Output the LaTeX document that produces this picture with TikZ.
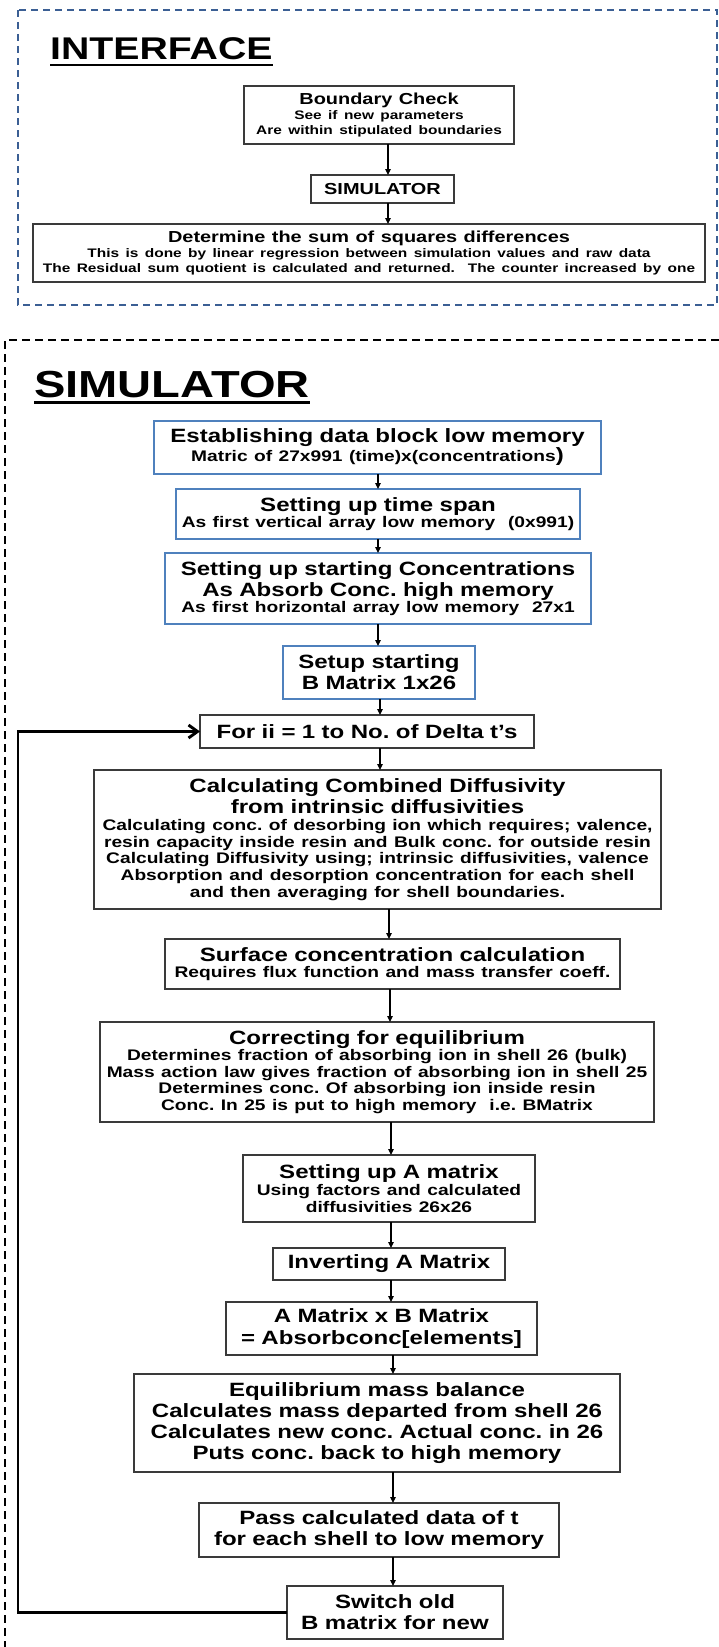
\documentclass[tikz,border=0pt]{standalone}
\usepackage{fontspec}
\setmainfont{Liberation Sans}[FakeStretch=1.25]
\usetikzlibrary{arrows.meta,positioning}
\usepackage{xcolor}
\frenchspacing

\definecolor{framebl}{HTML}{3B5F94}
\definecolor{boxbl}{HTML}{4F81BD}
\definecolor{boxgr}{HTML}{3A3A3A}

% text sizes inside the boxes
\newcommand{\facehead}{\bfseries\fontsize{16}{17}\selectfont}
\newcommand{\facesub}{\bfseries\fontsize{12.4}{15}\selectfont}
\newcommand{\boxhead}{\bfseries\fontsize{19.3}{21.2}\selectfont}
\newcommand{\boxsub}{\bfseries\fontsize{15.4}{16.7}\selectfont}

\begin{document}
\begin{tikzpicture}[x=1bp, y=1bp, every node/.style={font=\boxhead}]
\tikzset{box/.style={draw=boxgr, line width=1.4bp, fill=white, inner sep=0pt, outer sep=0pt, align=center}}
\tikzset{bbox/.style={box, draw=boxbl}}
\tikzset{arr/.style={line width=1.2bp, -{Triangle[length=6bp,width=5.5bp]}}}
\tikzset{backarr/.style={line width=2.9bp, -{Straight Barb[length=9bp,width=13bp]}}}
\tikzset{title/.style={inner sep=0pt, anchor=base west}}
\useasboundingbox (0,0) rectangle (719,-1647);

% interface panel
\draw[draw=framebl, line width=2.2bp, dash pattern=on 7bp off 5bp] (18,-10) rectangle (717,-305);
\node[title, font=\bfseries\fontsize{31.5}{34}\selectfont] (ifttl) at (50,-60) {INTERFACE};
\draw[line width=2.5bp] ([yshift=-5bp]ifttl.base west) -- ([yshift=-5bp]ifttl.base east);

\node[box, text width=270bp, minimum height=58bp] (bc) at (379,-115)
  {\facehead Boundary Check\par\facesub See if new parameters\\Are within stipulated boundaries\par};
\node[box, text width=143bp, minimum height=28bp, below=31bp of bc, xshift=3.5bp] (simbox) {\facehead SIMULATOR\par};
\node[box, text width=672bp, minimum height=58bp, below=21bp of simbox, xshift=-13.5bp] (det)
  {\facehead Determine the sum of squares differences\par\facesub This is done by\ linear regression between simulation values and raw data\\The Residual sum quotient is calculated and returned.\ \ The counter increased\ by one\par};

\foreach \a/\b/\s in {bc/simbox/9, simbox/det/5.5}{
  \path ([xshift=\s bp]\a.south) coordinate (t);
  \draw[arr] (t) -- (t |- \b.north);
}

% simulator panel
\draw[line width=2.6bp, dash pattern=on 8bp off 5bp] (719,-340) -- (5,-340) -- (5,-1647);
\node[title, font=\bfseries\fontsize{37.8}{40}\selectfont] (simttl) at (34,-397) {SIMULATOR};
\draw[line width=3bp] ([yshift=-5bp]simttl.base west) -- ([yshift=-5bp]simttl.base east);

\node[bbox, text width=447bp, minimum height=53bp] (est) at (377.5,-447.5)
  {Establishing data block low memory\par\boxsub Matric of 27x991 (time)x(concentrations{\boxhead)}\par};
\node[bbox, text width=404bp, minimum height=50bp, below=15bp of est, xshift=0.5bp] (span)
  {Setting up time span\par\boxsub As first vertical array low memory\ \ (0x991)\par};
\node[bbox, text width=426bp, minimum height=71bp, below=14bp of span] (conc)
  {Setting up starting Concentrations\\As Absorb Conc. high memory\par\boxsub As first horizontal array low memory\ \ 27x1\par};
\node[bbox, text width=192bp, minimum height=53bp, below=22bp of conc, xshift=1bp] (setb)
  {Setup starting\\B Matrix 1x26\par};
\node[box, text width=334bp, minimum height=33bp, below=16bp of setb, xshift=-12bp] (loop)
  {For ii = 1 to No. of Delta t’s\par};
\node[box, text width=567bp, minimum height=139bp, below=22bp of loop, xshift=10.5bp] (diff)
  {Calculating Combined Diffusivity\\from intrinsic diffusivities\par\boxsub
   Calculating conc. of desorbing ion which requires; valence,\\
   resin capacity inside resin and Bulk conc. for outside resin\\
   Calculating Diffusivity using; intrinsic diffusivities, valence\\
   Absorption and desorption concentration for each shell\\
   and then averaging for shell boundaries.\par};
\node[box, text width=455bp, minimum height=50bp, below=30bp of diff, xshift=15bp] (surf)
  {Surface concentration calculation\par\boxsub Requires flux function and mass\ transfer coeff.\par};
\node[box, text width=554bp, minimum height=100bp, below=33bp of surf, xshift=-15.5bp] (corr)
  {Correcting for equilibrium\par\boxsub
   Determines fraction of absorbing ion in shell 26 (bulk)\\
   Mass action law gives fraction of absorbing ion in shell 25\\
   Determines conc. Of absorbing ion inside resin\\
   Conc. In 25 is put to high memory\ \ i.e. BMatrix\par};
\node[box, text width=292bp, minimum height=67bp, below=33bp of corr, xshift=12bp] (amat)
  {Setting up A matrix\par\boxsub Using factors and calculated\\diffusivities 26x26\par};
\node[box, text width=232bp, minimum height=32bp, below=26bp of amat] (inv) {Inverting A Matrix\par};
\node[box, text width=311bp, minimum height=53bp, below=22bp of inv, xshift=-7.5bp] (axb)
  {A Matrix x B Matrix\\= Absorbconc[elements]\par};
\node[box, text width=486bp, minimum height=98bp, below=19bp of axb, xshift=-4.5bp] (bal)
  {Equilibrium mass balance\\Calculates mass departed from shell 26\\Calculates new conc. Actual conc. in 26\\Puts conc. back to high memory\par};
\node[box, text width=360bp, minimum height=54bp, below=31bp of bal, xshift=2bp] (pass)
  {Pass calculated data of t\\for each shell to low memory\par};
\node[box, text width=216bp, minimum height=53bp, below=29bp of pass, xshift=16bp] (swap)
  {Switch old\\B matrix for new\par};

\foreach \a/\b/\s in {est/span/0.5, span/conc/0, conc/setb/0, setb/loop/1, loop/diff/13,
    diff/surf/11.5, surf/corr/-2.5, corr/amat/14, amat/inv/2, inv/axb/2,
    axb/bal/11.5, bal/pass/16, pass/swap/14}{
  \path ([xshift=\s bp]\a.south) coordinate (t);
  \draw[arr] (t) -- (t |- \b.north);
}

% loop back to the time step
\coordinate (rail) at (18,-1000);
\draw[backarr] (swap.west) -| (rail) |- (loop.west);
\end{tikzpicture}
\end{document}
